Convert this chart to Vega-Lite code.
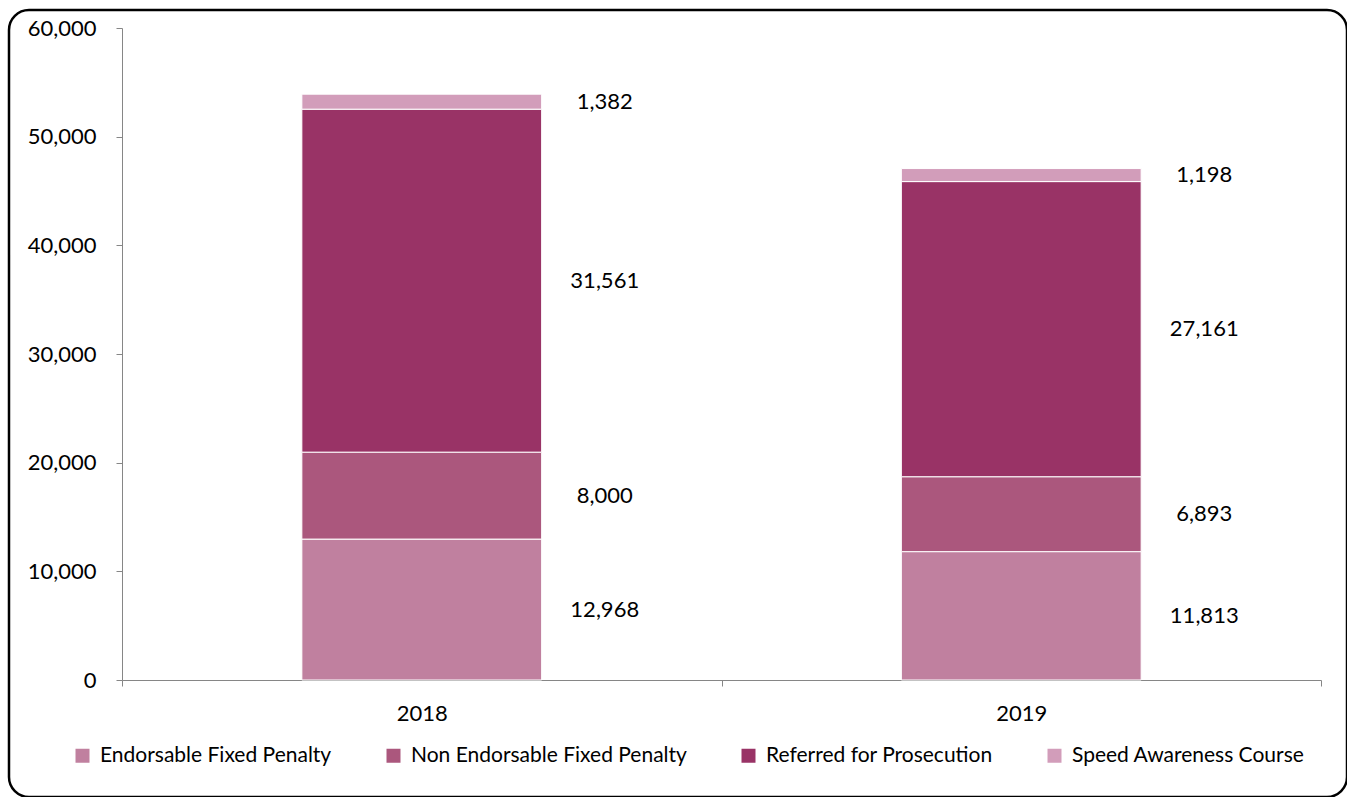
{
  "$schema": "https://vega.github.io/schema/vega-lite/v6.json",
  "width": 1338,
  "height": 787,
  "autosize": {"type": "none"},
  "padding": {"left": 9, "top": 10, "right": 0, "bottom": 0},
  "background": "white",
  "config": {
    "font": "Lato",
    "view": {"stroke": "black", "strokeWidth": 2.5, "cornerRadius": 20},
    "axis": {"grid": false, "domainColor": "#868686", "tickColor": "#868686", "labelColor": "black", "labelFont": "Lato"}
  },
  "data": {
    "values": [
      {"year": "2018", "cat": "Endorsable Fixed Penalty", "value": 12968},
      {"year": "2018", "cat": "Non Endorsable Fixed Penalty", "value": 8000},
      {"year": "2018", "cat": "Referred for Prosecution", "value": 31561},
      {"year": "2018", "cat": "Speed Awareness Course", "value": 1382},
      {"year": "2019", "cat": "Endorsable Fixed Penalty", "value": 11813},
      {"year": "2019", "cat": "Non Endorsable Fixed Penalty", "value": 6893},
      {"year": "2019", "cat": "Referred for Prosecution", "value": 27161},
      {"year": "2019", "cat": "Speed Awareness Course", "value": 1198}
    ]
  },
  "layer": [
    {
      "mark": {"type": "bar", "stroke": "white", "strokeWidth": 1, "width": {"band": 0.4}},
      "encoding": {
        "x": {
          "field": "year", "type": "nominal",
          "scale": {"range": [113, 1312], "paddingInner": 0, "paddingOuter": 0},
          "axis": {"title": null, "offset": -117, "tickBand": "extent", "tickSize": 6, "labelPadding": 17, "labelAngle": 0, "labelFontSize": 22}
        },
        "y": {
          "field": "value", "type": "quantitative", "stack": "zero",
          "scale": {"domain": [0, 60000], "range": [670, 18], "nice": false, "zero": true},
          "axis": {"title": null, "offset": -113, "values": [0, 10000, 20000, 30000, 40000, 50000, 60000], "format": ",.0f", "tickSize": 6, "labelPadding": 20, "labelFontSize": 22}
        },
        "order": {"field": "cat", "sort": "ascending"},
        "color": {
          "field": "cat", "type": "nominal",
          "scale": {
            "domain": ["Endorsable Fixed Penalty", "Non Endorsable Fixed Penalty", "Referred for Prosecution", "Speed Awareness Course"],
            "range": ["#C0809F", "#AB577D", "#993366", "#D29DBA"]
          },
          "legend": {
            "orient": "none", "legendX": 63, "legendY": 735, "direction": "horizontal", "title": null,
            "symbolType": "square", "symbolSize": 196, "symbolStrokeWidth": 0,
            "labelFontSize": 21, "labelColor": "black", "labelFont": "Lato", "columnPadding": 51, "labelOffset": 7, "labelLimit": 400
          }
        }
      }
    },
    {
      "mark": {"type": "text", "dx": 183, "fontSize": 22, "color": "black", "align": "center", "baseline": "middle"},
      "encoding": {
        "x": {"field": "year", "type": "nominal"},
        "y": {"field": "value", "type": "quantitative", "stack": "zero", "bandPosition": 0.5},
        "order": {"field": "cat", "sort": "ascending"},
        "detail": {"field": "cat", "type": "nominal"},
        "text": {"field": "value", "type": "quantitative", "format": ","}
      }
    }
  ]
}
